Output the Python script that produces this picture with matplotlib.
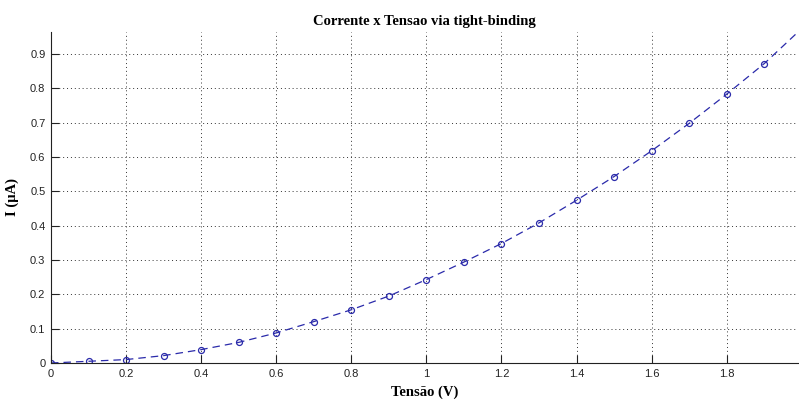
import matplotlib
matplotlib.use("Agg")
import matplotlib.pyplot as plt

voltage = [0.0, 0.1, 0.2, 0.3, 0.4, 0.5, 0.6, 0.7, 0.8, 0.9, 1.0,
           1.1, 1.2, 1.3, 1.4, 1.5, 1.6, 1.7, 1.8, 1.9, 1.99]
current = [0.0, 0.005, 0.010, 0.0215, 0.039, 0.060, 0.0875, 0.1205, 0.155, 0.195, 0.243,
           0.294, 0.348, 0.408, 0.474, 0.543, 0.618, 0.698, 0.783, 0.872, 0.964]

xticks = [0, 0.2, 0.4, 0.6, 0.8, 1.0, 1.2, 1.4, 1.6, 1.8]
xticklabels = ["0", "0.2", "0.4", "0.6", "0.8", "1", "1.2", "1.4", "1.6", "1.8"]
yticks = [0, 0.1, 0.2, 0.3, 0.4, 0.5, 0.6, 0.7, 0.8, 0.9]
yticklabels = ["0", "0.1", "0.2", "0.3", "0.4", "0.5", "0.6", "0.7", "0.8", "0.9"]

fig = plt.figure(figsize=(7.99, 4.0), dpi=100)
ax = fig.add_axes([0.0638, 0.0925, 0.935, 0.8275])

line_color = "#2a2aaa"
ax.plot(voltage, current, linestyle=(0, (6, 4)), color=line_color, linewidth=0.9,
        marker="o", markersize=4.3, markerfacecolor="none", markeredgecolor=line_color,
        markeredgewidth=0.9, markevery=list(range(len(voltage) - 1)), clip_on=True)

ax.set_xlim(0, voltage[-1])
ax.set_ylim(0, current[-1])
ax.set_xticks(xticks)
ax.set_xticklabels(xticklabels)
ax.set_yticks(yticks)
ax.set_yticklabels(yticklabels)

for lbl in ax.get_xticklabels() + ax.get_yticklabels():
    lbl.set_fontfamily("Liberation Sans")
    lbl.set_fontsize(8)
    lbl.set_color("#222222")

ax.tick_params(direction="in", length=5.5, width=0.8, color="#222222", pad=4)
ax.grid(True, linestyle=(0, (1, 3)), color="#333333", linewidth=0.7)
ax.set_axisbelow(True)

ax.spines["top"].set_visible(False)
ax.spines["right"].set_visible(False)
ax.spines["left"].set_color("#222222")
ax.spines["bottom"].set_color("#222222")

ax.set_title("Corrente x Tensao via tight-binding", fontfamily="Liberation Serif",
             fontweight="bold", fontsize=10.5, pad=5)
ax.set_xlabel("Tensão (V)", fontfamily="Liberation Serif", fontweight="bold",
              fontsize=10.5, labelpad=5)
ax.set_ylabel("I (μA)", fontfamily=["Liberation Serif", "DejaVu Serif"], fontweight="bold",
              fontsize=10.5, labelpad=8)

fig.savefig("out.png", dpi=100)
